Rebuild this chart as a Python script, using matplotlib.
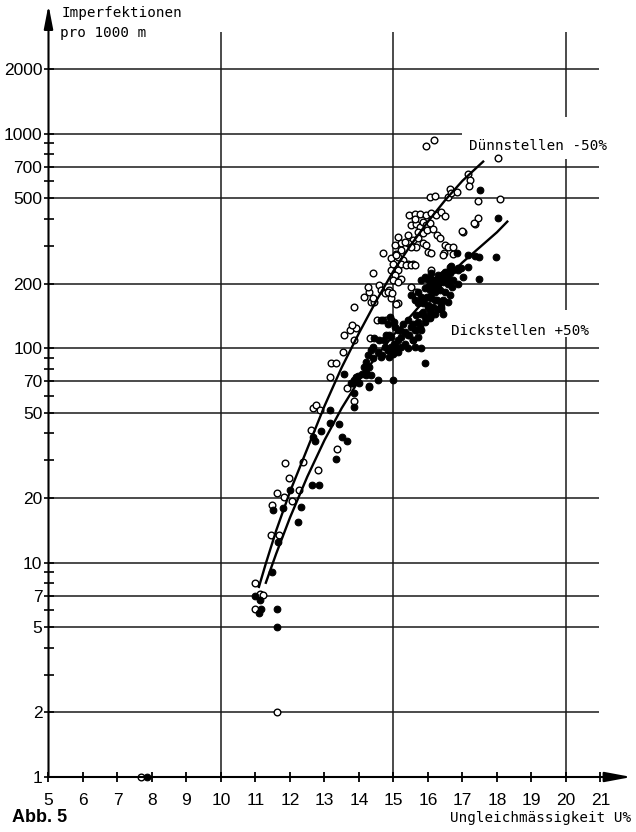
import numpy as np
import matplotlib
matplotlib.use("Agg")
import matplotlib.pyplot as plt

# ---- Dünnstellen -50 % (open circles): unevenness U% vs. imperfections per 1000 m
thin_u = [7.68, 11.61, 10.98, 10.98, 11.13, 11.22, 11.45, 11.68, 11.47, 11.61, 11.83, 12.05,
          11.86, 11.98, 12.25, 12.37, 12.80, 12.62, 12.68, 12.76, 12.86, 13.35, 13.64, 13.85,
          13.15, 13.18, 13.32, 13.55, 13.57, 13.74, 13.91, 13.81, 13.86, 13.86, 14.32,
          14.15, 14.35, 14.44, 14.40, 14.30, 14.25, 14.59, 14.40, 14.64, 14.74, 14.88, 14.93,
          15.13, 14.93, 15.13, 15.03, 15.22, 14.98, 15.50, 15.66, 15.71, 14.52, 14.78, 14.92,
          15.52, 15.66, 15.76, 15.86, 15.95, 16.05, 15.71, 15.86, 15.98, 16.15, 15.42, 15.57,
          15.71, 15.86, 15.66, 15.42, 15.52, 15.13, 15.22, 15.32, 15.03, 15.22, 15.08, 14.93,
          15.13, 15.27, 15.42, 15.57, 14.98, 14.69, 15.95, 16.25, 16.34, 16.00, 16.10, 16.49,
          16.59, 16.73, 16.47, 17.01, 17.35,
          15.07, 15.22, 15.36, 15.51, 15.61, 15.12, 14.83, 14.97, 15.07, 16.10, 16.44, 16.73,
          15.46, 15.61, 15.78, 15.95, 16.10, 16.24, 16.39, 16.49, 15.61, 16.05, 16.19, 16.58,
          16.63, 16.68, 16.83, 15.95, 16.17, 18.03, 17.17, 17.22, 17.20, 17.44, 18.08, 17.46,
          17.33, 16.99]
thin_n = [1.0, 2.0, 6.07, 8.0, 7.1, 7.05, 13.4, 13.4, 18.6, 21.0, 20.2, 19.4,
          29.2, 24.9, 21.7, 29.5, 27.0, 41.4, 52.5, 54.4, 51.2, 33.9, 65.0, 56.8,
          73.0, 85, 85, 96, 115, 121, 124, 128, 156, 109, 112,
          174, 164, 164, 171, 183, 193, 197, 223, 187, 180, 187, 171,
          162, 231, 231, 219, 211, 208, 193, 183, 177, 135, 135, 135,
          375, 381, 368, 388, 375, 384, 349, 343, 355, 361, 336, 319,
          325, 308, 297, 308, 297, 330, 308, 313, 302, 286, 276, 262,
          267, 257, 248, 248, 248, 277, 302, 336, 325, 281, 279, 302,
          297, 297, 277, 349, 381,
          272, 248, 244, 244, 244, 204, 183, 180, 161, 231, 272, 276,
          417, 420, 424, 417, 425, 417, 430, 412, 400, 505, 514, 505,
          555, 526, 536, 875, 933, 771, 647, 611, 569, 484, 495, 405,
          384, 352]

# ---- Dickstellen +50 % (filled circles)
thick_u = [7.85, 11.61, 11.62, 11.10, 11.17, 10.98, 11.13, 11.47, 11.66, 12.22, 11.52, 11.81,
           12.32, 12.00, 12.65, 12.83, 13.33, 12.68, 12.73, 13.51, 13.66, 12.90, 13.17, 13.42,
           13.15, 13.85, 13.85, 13.56, 13.90, 13.81, 14.00, 14.20, 14.34, 14.54, 14.29,
           13.76, 13.86, 13.96, 14.10, 14.20, 14.15, 14.30, 14.20, 14.40, 14.25, 14.35, 14.44,
           14.59, 14.40, 14.54, 14.64, 14.74, 14.83, 14.88, 14.98, 15.13, 14.93, 15.03, 15.13,
           15.22, 15.32, 15.42, 15.57, 15.42, 15.57, 15.71, 15.52, 15.66, 14.30, 14.98, 15.91,
           14.91, 14.69, 14.79, 14.88, 15.03, 15.18, 15.27, 14.64,
           16.49, 16.64, 16.73, 16.10, 16.30, 16.39, 16.20, 15.81, 15.96, 16.05, 16.15, 16.30,
           16.44, 16.59, 16.69, 15.91, 16.05, 16.20, 16.34, 16.49, 16.64, 16.44, 16.59, 16.39,
           16.44, 15.71, 15.81, 15.96, 16.10, 16.25, 15.86, 16.00, 16.15, 16.30, 15.71, 15.61,
           15.52, 16.05, 16.20, 15.91, 16.05, 15.81, 15.66,
           16.83, 17.17, 17.37, 17.47, 17.97, 16.88, 17.03, 17.47, 17.51, 18.03, 17.17, 16.88,
           16.63, 16.44, 16.54, 16.68, 16.97,
           16.44, 16.58, 16.73, 16.88, 16.39, 16.39, 15.90, 16.10, 16.19, 16.00, 16.15, 16.29,
           16.05, 16.19, 15.90, 16.00, 15.85, 16.05, 15.90, 15.76, 15.61, 15.46, 15.56, 15.71,
           15.80, 15.32, 15.41, 15.61, 15.80,
           15.02, 14.83, 15.12, 14.73, 14.93, 15.02, 15.22, 15.07, 14.83, 14.68]
thick_n = [1.0, 5.0, 6.07, 5.8, 6.1, 6.97, 6.7, 9.0, 12.5, 15.5, 17.5, 17.9,
           18.1, 21.7, 23.0, 23.0, 30.4, 38.6, 37.0, 38.6, 36.8, 41.1, 44.6, 44.3,
           51.2, 53.4, 62.0, 75.7, 73, 68.5, 68.5, 77.5, 74.9, 71, 66.5,
           68.5, 71, 74, 76, 75, 82, 82, 86.4, 90, 93, 98, 111,
           109, 101, 96, 91, 101, 98, 91, 94, 96, 101, 105, 109,
           113, 119, 115, 109, 135, 130, 133, 126, 121, 66, 71, 85.5,
           140, 135, 115, 115, 126, 121, 130, 135,
           227, 223, 231, 223, 219, 211, 208, 208, 211, 200, 197, 200,
           204, 200, 193, 190, 187, 183, 187, 183, 177, 167, 164, 156,
           145, 183, 174, 174, 171, 167, 162, 159, 156, 153, 162, 167,
           177, 148, 145, 140, 138, 145, 143,
           277, 272, 269, 266, 265, 236, 215, 209, 545, 406, 239, 231,
           239, 221, 227, 241, 236,
           208, 211, 208, 200, 161, 153, 215, 211, 200, 193, 187, 190,
           173, 167, 171, 156, 148, 140, 133, 126, 121, 115, 109, 113,
           121, 105, 100, 101, 100,
           133, 130, 121, 109, 113, 105, 101, 98, 98, 93]

# ---- fitted trend curves
thin_fit_u = [11.1, 11.3, 11.6, 12.0, 12.5, 13.0, 13.5, 14.0, 14.5, 15.0, 15.5, 16.0, 16.5, 17.0, 17.6]
thin_fit_n = [7.7, 9.9, 14.1, 21.4, 33.9, 53.7, 81.3, 117.5, 166, 229, 302, 389, 490, 603, 741]
thick_fit_u = [11.3, 11.6, 12.0, 12.5, 13.0, 13.5, 14.0, 14.5, 15.0, 15.5, 16.0, 16.5, 17.0, 17.5, 18.0, 18.3]
thick_fit_n = [8.05, 11.0, 16.2, 25.1, 37.2, 52.5, 70.8, 91.2, 115, 141, 174, 209, 251, 295, 347, 389]

# ---- axis ticks and grid
x_ticks = list(range(5, 22))
y_major = [1, 2, 5, 7, 10, 20, 50, 70, 100, 200, 500, 700, 1000, 2000]
y_minor = [3, 4, 6, 8, 9, 30, 40, 60, 80, 90, 300, 400, 600, 800, 900]
h_grid = [2, 5, 7, 10, 20, 50, 70, 100, 200, 500, 700, 2000]

MONO = ["DejaVu Sans Mono"]
SANS = ["Liberation Sans", "DejaVu Sans"]

fig = plt.figure(figsize=(6.36, 8.32), dpi=100)
fig.patch.set_facecolor("white")
ax = fig.add_axes([48.5 / 636, 55 / 832, 583 / 636, 772 / 832])
ax.set_yscale("log")
ax.set_xlim(5, 21.9)
ax.set_ylim(1, 10 ** 3.6)
for s in ax.spines.values():
    s.set_visible(False)

# grid lines
gc = "#1a1a1a"
ax.hlines(h_grid, 5, 20.95, colors=gc, lw=1.1, zorder=1)
ax.hlines([1000], 5, 17.0, colors=gc, lw=1.1, zorder=1)
ax.vlines([10, 15], 1, 2970, colors=gc, lw=1.1, zorder=1)
ax.vlines([20, 20, 20], [1, 151, 1200], [113, 765, 2970], colors=gc, lw=1.1, zorder=1)

# axes with arrow heads
ax.annotate("", xy=(1.0, 0), xytext=(0, 0), xycoords="axes fraction",
            arrowprops=dict(arrowstyle="-|>,head_length=1.6,head_width=0.3",
                            lw=1.5, color="black", shrinkA=0, shrinkB=0),
            annotation_clip=False, zorder=5)
ax.annotate("", xy=(0, 1.0), xytext=(0, 0), xycoords="axes fraction",
            arrowprops=dict(arrowstyle="-|>,head_length=1.4,head_width=0.27",
                            lw=1.5, color="black", shrinkA=0, shrinkB=0),
            annotation_clip=False, zorder=5)

# ticks
ax.set_xticks(x_ticks)
ax.set_xticklabels([str(v) for v in x_ticks], family=SANS, fontsize=12.5)
ax.set_yticks(y_major)
ax.set_yticklabels([str(v) for v in y_major], family=SANS, fontsize=12.5)
ax.set_yticks(y_minor, minor=True)
ax.set_yticklabels([], minor=True)
ax.set_xticks([], minor=True)
ax.tick_params(axis="x", which="major", direction="inout", length=7, width=1.3, pad=8)
ax.tick_params(axis="y", which="both", direction="inout", length=7, width=1.2, pad=1)

# data
ax.plot(thin_u, thin_n, "o", mfc="white", mec="black", ms=4.8, mew=1.0,
        linestyle="none", clip_on=False, zorder=3)
ax.plot(thick_u, thick_n, "o", mfc="black", mec="black", ms=4.8, mew=0.8,
        linestyle="none", clip_on=False, zorder=4)
ax.plot(thin_fit_u, thin_fit_n, "-", color="black", lw=1.7, zorder=4)
ax.plot(thick_fit_u, thick_fit_n, "-", color="black", lw=1.7, zorder=4)

# labels
ax.text(17.2, 875, "Dünnstellen -50%", family=MONO, fontsize=10.3, va="center")
ax.text(16.67, 120, "Dickstellen +50%", family=MONO, fontsize=10.3, va="center")
fig.text(62 / 636, 1 - 13 / 832, "Imperfektionen", family=MONO, fontsize=10.3, va="center")
fig.text(60 / 636, 1 - 33 / 832, "pro 1000 m", family=MONO, fontsize=10.3, va="center")
fig.text(631 / 636, 1 - 818 / 832, "Ungleichmässigkeit U%", family=MONO, fontsize=10.3,
         ha="right", va="center")
fig.text(12 / 636, 1 - 817 / 832, "Abb. 5", family=SANS,
         fontweight="bold", fontsize=13, va="center")

fig.savefig("out.png", dpi=100, facecolor="white")
